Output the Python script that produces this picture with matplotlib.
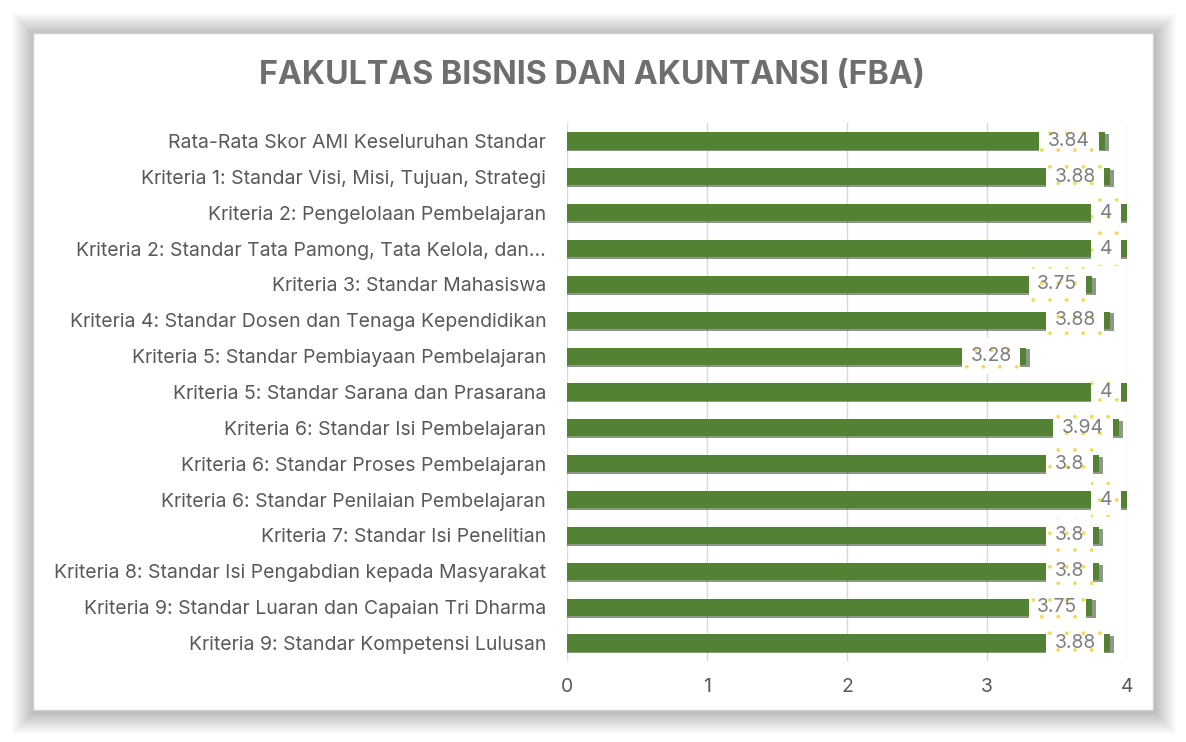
import matplotlib.pyplot as plt
from matplotlib.patches import Rectangle

plt.rcParams['font.family'] = ['Inter', 'DejaVu Sans']
plt.rcParams['hatch.linewidth'] = 0.35

categories = [
    "Rata-Rata Skor AMI Keseluruhan Standar",
    "Kriteria 1: Standar Visi, Misi, Tujuan, Strategi",
    "Kriteria 2: Pengelolaan Pembelajaran",
    "Kriteria 2: Standar Tata Pamong, Tata Kelola, dan…",
    "Kriteria 3: Standar Mahasiswa",
    "Kriteria 4: Standar Dosen dan Tenaga Kependidikan",
    "Kriteria 5: Standar Pembiayaan Pembelajaran",
    "Kriteria 5: Standar Sarana dan Prasarana",
    "Kriteria 6: Standar Isi Pembelajaran",
    "Kriteria 6: Standar Proses Pembelajaran",
    "Kriteria 6: Standar Penilaian Pembelajaran",
    "Kriteria 7: Standar Isi Penelitian",
    "Kriteria 8: Standar Isi Pengabdian kepada Masyarakat",
    "Kriteria 9: Standar Luaran dan Capaian Tri Dharma",
    "Kriteria 9: Standar Kompetensi Lulusan",
]
scores = [3.84, 3.88, 4, 4, 3.75, 3.88, 3.28, 4, 3.94, 3.8, 4, 3.8, 3.8, 3.75, 3.88]
labels = ["3.84", "3.88", "4", "4", "3.75", "3.88", "3.28", "4", "3.94", "3.8", "4", "3.8", "3.8", "3.75", "3.88"]
xticks = [0, 1, 2, 3, 4]

W, H = 1186, 742
fig = plt.figure(figsize=(W / 100, H / 100), dpi=100)
fig.patch.set_facecolor('white')

# card with soft shadow
x0, y0, x1, y1 = 33, 33, 1153, 710
for k in range(22, 0, -1):
    fig.patches.append(Rectangle(((x0 - k + 1) / W, 1 - (y1 + k + 2) / H),
                                 (x1 - x0 + 2 * k) / W, (y1 - y0 + 2 * k) / H,
                                 transform=fig.transFigure, facecolor='black',
                                 edgecolor='none', alpha=0.012, zorder=-3))
fig.patches.append(Rectangle((x0 / W, 1 - y1 / H), (x1 - x0) / W, (y1 - y0) / H,
                             transform=fig.transFigure, facecolor='white',
                             edgecolor='#d0d0d0', linewidth=1, zorder=-2))

fig.text(592 / W, 1 - 76 / H, "FAKULTAS BISNIS DAN AKUNTANSI (FBA)",
         ha='center', va='center', fontsize=23.2, fontweight='bold', color='#6e6e6e')

ax = fig.add_axes([567 / W, 1 - 661 / H, 560 / W, 538 / H])
ax.set_facecolor('none')
ypos = list(range(len(categories)))

# bar shadow
ax.barh([y + 0.05 for y in ypos], [s + 0.03 for s in scores], height=0.48,
        color='#1e3310', alpha=0.5, zorder=2)
ax.barh(ypos, scores, height=0.48, color='#548235', zorder=3)

for y, s, lab in zip(ypos, scores, labels):
    ax.annotate(lab, xy=(s, y), xytext=(-10.5, 0), textcoords='offset points',
                ha='right', va='center', fontsize=14, color='#7f7f7f', zorder=5,
                bbox=dict(boxstyle='square,pad=0.45', facecolor='white',
                          edgecolor='#eedc5a', linewidth=0, hatch='.'))

ax.set_xlim(0, 4)
ax.set_ylim(len(categories) - 0.5, -0.5)
ax.set_xticks(xticks)
ax.set_xticklabels([str(t) for t in xticks])
ax.set_yticks(ypos)
ax.set_yticklabels(categories)
ax.tick_params(axis='both', length=0, colors='#595959', labelsize=14)
ax.tick_params(axis='y', pad=15)
ax.tick_params(axis='x', pad=12)
ax.grid(axis='x', color='#d9d9d9', linewidth=1, zorder=0)
ax.set_axisbelow(True)
for sp in ax.spines.values():
    sp.set_visible(False)

fig.savefig('out.png', dpi=100, facecolor='white')
